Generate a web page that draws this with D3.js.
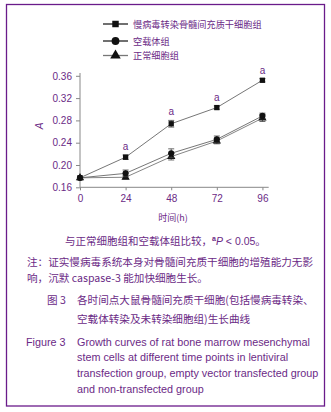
<!DOCTYPE html>
<html>
<head>
<meta charset="utf-8">
<script src="https://cdn.jsdelivr.net/npm/d3@7/dist/d3.min.js"></script>
<style>
  body { margin: 0; background: #fff; }
  svg { display: block; }
</style>
</head>
<body>
<svg id="chart" width="331" height="412"></svg>
<script>
const hours = [0, 24, 48, 72, 96]
const lentiMean = [0.177, 0.214, 0.274, 0.303, 0.352]
const lentiErr = [0.002, 0.004, 0.006, 0.003, 0.003]
const emptyMean = [0.177, 0.185, 0.221, 0.246, 0.288]
const emptyErr = [0.002, 0.006, 0.008, 0.006, 0.005]
const normalMean = [0.177, 0.178, 0.215, 0.243, 0.284]
const normalErr = [0.002, 0.003, 0.006, 0.005, 0.006]
const yTicks = [0.16, 0.20, 0.24, 0.28, 0.32, 0.36]
const sigMark = [false, true, true, true, true]
const legendNames = ["慢病毒转染骨髓间充质干细胞组", "空载体组", "正常细胞组"]

const purple = "#6b2a86"
const cjk = "'Noto Sans CJK SC', sans-serif"
const latin = "'Liberation Sans', Arial, sans-serif"

const svg = d3.select("#chart")

// frame
svg.append("rect")
    .attr("x", 6.5).attr("y", 4.5)
    .attr("width", 318).attr("height", 401.5)
    .attr("fill", "none").attr("stroke", "#6a1b8a").attr("stroke-width", 1.3)

const x = d3.scaleLinear().domain([0, 99.3]).range([80, 268.7])
const y = d3.scaleLinear().domain([0.16, 0.36]).range([187.3, 75.8])

// axes
const yAxis = svg.append("g")
    .attr("transform", "translate(80,0)")
    .call(d3.axisLeft(y).tickValues(yTicks).tickSize(4).tickPadding(4)
        .tickFormat(d3.format(".2f")))
yAxis.select(".domain").attr("d", `M0,${y(0.16)}V73`)

const xAxis = svg.append("g")
    .attr("transform", `translate(0,${y(0.16)})`)
    .call(d3.axisBottom(x).tickValues(hours).tickSize(3).tickPadding(5))
xAxis.select(".domain").attr("d", `M${x(0)},0H${x(99.3)}`)

svg.selectAll(".tick text")
    .attr("fill", purple)
    .style("font-family", latin)
    .style("font-size", "10px")
svg.selectAll(".domain, .tick line").attr("stroke", "#888")

svg.append("text")
    .attr("transform", "translate(43,126) rotate(-90)")
    .attr("text-anchor", "middle")
    .attr("fill", purple)
    .style("font-family", latin).style("font-size", "10px").style("font-style", "italic")
    .text("A")

svg.append("text")
    .attr("x", 173).attr("y", 221)
    .attr("text-anchor", "middle")
    .attr("fill", purple)
    .style("font-family", cjk).style("font-size", "9px")
    .text("时间(h)")

const series = [
    { name: legendNames[0], mean: lentiMean, err: lentiErr, shape: d3.symbolSquare, size: 28, line: "#666" },
    { name: legendNames[1], mean: emptyMean, err: emptyErr, shape: d3.symbolCircle, size: 30, line: "#666" },
    { name: legendNames[2], mean: normalMean, err: normalErr, shape: d3.symbolTriangle, size: 30, line: "#777" }
]

const line = d3.line().x(d => x(d[0])).y(d => y(d[1]))

series.slice().reverse().forEach(s => {
    const pts = hours.map((h, i) => [h, s.mean[i], s.err[i]])
    const g = svg.append("g")
    g.append("path")
        .attr("d", line(pts))
        .attr("fill", "none").attr("stroke", s.line).attr("stroke-width", 0.9)
    const eb = g.selectAll(".eb").data(pts).enter().append("g")
    eb.append("line")
        .attr("x1", d => x(d[0])).attr("x2", d => x(d[0]))
        .attr("y1", d => y(d[1] - d[2])).attr("y2", d => y(d[1] + d[2]))
        .attr("stroke", "#444").attr("stroke-width", 0.8)
    eb.append("line")
        .attr("x1", d => x(d[0]) - 3).attr("x2", d => x(d[0]) + 3)
        .attr("y1", d => y(d[1] + d[2])).attr("y2", d => y(d[1] + d[2]))
        .attr("stroke", "#444").attr("stroke-width", 0.8)
    eb.append("line")
        .attr("x1", d => x(d[0]) - 3).attr("x2", d => x(d[0]) + 3)
        .attr("y1", d => y(d[1] - d[2])).attr("y2", d => y(d[1] - d[2]))
        .attr("stroke", "#444").attr("stroke-width", 0.8)
    g.selectAll(".pt").data(pts).enter().append("path")
        .attr("transform", d => `translate(${x(d[0])},${y(d[1])})`)
        .attr("d", d3.symbol().type(s.shape).size(s.size))
        .attr("fill", "#111")
})

// significance marks
svg.selectAll(".sig")
    .data(hours.map((h, i) => ({ h, v: lentiMean[i] + lentiErr[i], on: sigMark[i] })).filter(d => d.on))
    .enter().append("text")
    .attr("x", d => x(d.h)).attr("y", d => y(d.v) - 5)
    .attr("text-anchor", "middle")
    .attr("fill", purple)
    .style("font-family", latin).style("font-size", "10px")
    .text("a")

// legend
const legend = svg.append("g")
series.forEach((s, i) => {
    const ly = [24, 41, 55.5][i]
    legend.append("line")
        .attr("x1", 103).attr("x2", 128).attr("y1", ly).attr("y2", ly)
        .attr("stroke", i === 2 ? "#777" : "#222").attr("stroke-width", 1.3)
    legend.append("path")
        .attr("transform", `translate(115.5,${ly})`)
        .attr("d", d3.symbol().type(s.shape).size(i === 0 ? 42 : 48))
        .attr("fill", "#111")
    legend.append("text")
        .attr("x", 133).attr("y", ly + 3.5)
        .attr("fill", purple)
        .style("font-family", cjk).style("font-size", "9.2px")
        .text(s.name)
})

// captions
const cap = svg.append("g").attr("fill", purple)
const note1 = cap.append("text").attr("x", 65).attr("y", 244.5)
    .style("font-family", cjk).style("font-size", "10.5px")
note1.append("tspan").text("与正常细胞组和空载体组比较，")
note1.append("tspan").attr("dy", -4).style("font-size", "7px").style("font-family", latin)
    .style("font-weight", "bold").text("a")
note1.append("tspan").attr("dy", 4).style("font-family", latin).style("font-style", "italic").text("P")
note1.append("tspan").style("font-family", latin).text(" < 0.05")
note1.append("tspan").text("。")

const cjkLines = [
    { x: 27, y: 265.5, t: "注：证实慢病毒系统本身对骨髓间充质干细胞的增殖能力无影" },
    { x: 27, y: 282, t: "响，沉默 caspase-3 能加快细胞生长。" },
    { x: 47, y: 304, t: "图 3" },
    { x: 77, y: 304, t: "各时间点大鼠骨髓间充质干细胞(包括慢病毒转染、" },
    { x: 77, y: 323, t: "空载体转染及未转染细胞组)生长曲线" }
]
cap.selectAll(".cl").data(cjkLines).enter().append("text")
    .attr("x", d => d.x).attr("y", d => d.y)
    .style("font-family", cjk).style("font-size", "10.6px")
    .text(d => d.t)

const enLines = [
    { x: 26, y: 345.5, t: "Figure 3" },
    { x: 77, y: 345.5, t: "Growth curves of rat bone marrow mesenchymal" },
    { x: 77, y: 361, t: "stem cells at different time points in lentiviral" },
    { x: 77, y: 377, t: "transfection group, empty vector transfected group" },
    { x: 77, y: 393, t: "and non-transfected group" }
]
cap.selectAll(".el").data(enLines).enter().append("text")
    .attr("x", d => d.x).attr("y", d => d.y)
    .style("font-family", latin).style("font-size", "10.8px")
    .text(d => d.t)
</script>
</body>
</html>
